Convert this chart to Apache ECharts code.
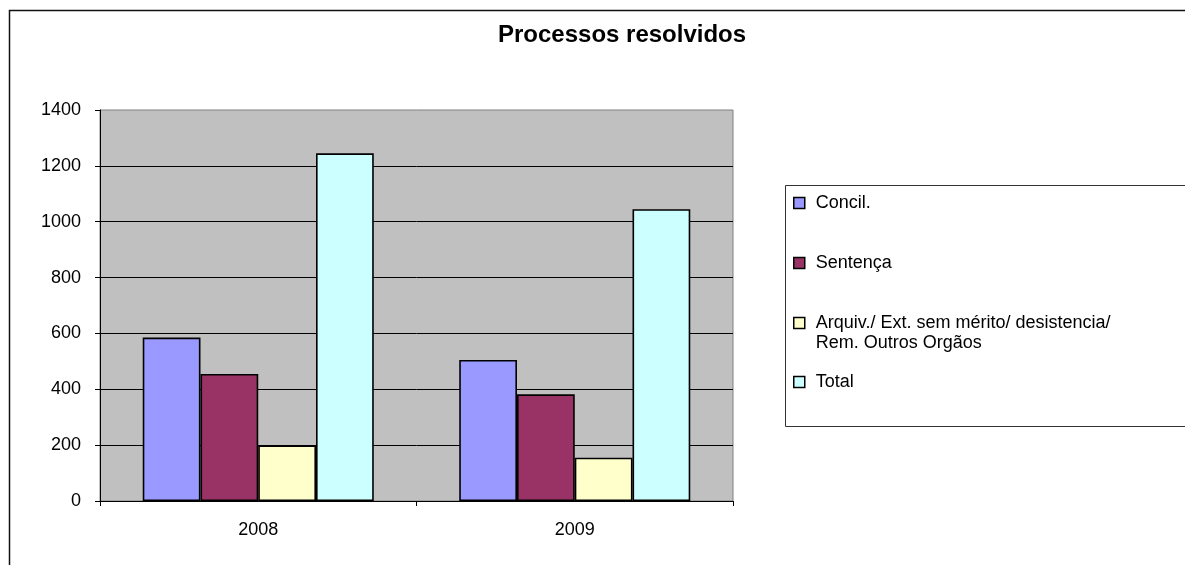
<!DOCTYPE html>
<html>
<head>
<meta charset="utf-8">
<title>Processos resolvidos</title>
<script src="https://cdn.jsdelivr.net/npm/echarts@6/dist/echarts.min.js"></script>
<style>
  html, body { margin: 0; padding: 0; background: #fff; }
  #chart { width: 1185px; height: 565px; }
</style>
</head>
<body>
<div id="chart"></div>
<script>
// Processos resolvidos - grouped bars per year (Excel-style look)

const years = ['2008', '2009'];
const seriesNames = [
    'Concil.',
    'Sentença',
    'Arquiv./ Ext. sem mérito/ desistencia/ Rem. Outros Orgãos',
    'Total'
];
const concil = [585, 505];
const sentenca = [455, 382];
const arquiv = [199, 155];
const total = [1245, 1045];
const yTicks = [0, 200, 400, 600, 800, 1000, 1200, 1400];

const colors = ['#9999FF', '#993366', '#FFFFCC', '#CCFFFF'];
const values = [concil, sentenca, arquiv, total];
const font = '"Liberation Sans", Arial, sans-serif';

const chart = echarts.init(document.getElementById('chart'), null, { renderer: 'canvas' });

const legendBase = {
    orient: 'vertical',
    left: 793,
    padding: 0,
    itemWidth: 11,
    itemHeight: 11,
    icon: 'rect',
    selectedMode: false,
    itemStyle: { borderColor: '#000', borderWidth: 1.5 },
    textStyle: {
        fontFamily: font, fontSize: 18, color: '#000',
        lineHeight: 20, padding: [0, 0, 0, 6]
    },
    // long label wraps; an empty first line keeps the icon beside the first text line
    formatter: name => name.indexOf('desistencia/ ') >= 0
        ? '\n' + name.replace('desistencia/ ', 'desistencia/\n')
        : name
};

chart.setOption({
    animation: false,
    backgroundColor: '#fff',
    title: {
        text: 'Processos resolvidos',
        left: 498,
        top: 23,
        padding: 0,
        textStyle: { fontFamily: font, fontSize: 24, fontWeight: 'bold', color: '#000' }
    },
    graphic: [
        {
            type: 'rect', silent: true, z: -10,
            shape: { x: 9.5, y: 10.5, width: 1300, height: 700 },
            style: { fill: 'none', stroke: '#111', lineWidth: 1.5 }
        },
        {
            type: 'rect', silent: true, z: -5,
            shape: { x: 785.5, y: 185.5, width: 500, height: 241 },
            style: { fill: '#fff', stroke: '#333', lineWidth: 1 }
        }
    ],
    legend: [
        Object.assign({}, legendBase, { data: seriesNames.slice(0, 2), top: 193, itemGap: 40 }),
        Object.assign({}, legendBase, { data: seriesNames.slice(2), top: 293, itemGap: 19 })
    ],
    grid: {
        left: 100, right: 452, top: 110, bottom: 64,
        show: true, backgroundColor: '#C0C0C0',
        borderColor: '#808080', borderWidth: 1
    },
    xAxis: {
        type: 'category',
        data: years,
        axisLine: { lineStyle: { color: '#000', width: 1 } },
        axisTick: { show: true, length: 5, lineStyle: { color: '#000' } },
        axisLabel: { fontFamily: font, fontSize: 18, color: '#000', margin: 20 }
    },
    yAxis: {
        type: 'value',
        min: yTicks[0],
        max: yTicks[yTicks.length - 1],
        interval: yTicks[1] - yTicks[0],
        axisLine: { show: true, lineStyle: { color: '#000', width: 1 } },
        axisTick: { show: true, length: 5, lineStyle: { color: '#000' } },
        axisLabel: {
            fontFamily: font, fontSize: 18, color: '#000', margin: 19,
            formatter: v => String(v)
        },
        splitLine: { show: true, showMaxLine: false, lineStyle: { color: '#000', width: 1 } }
    },
    series: seriesNames.map((name, i) => ({
        name: name,
        type: 'bar',
        data: values[i],
        barGap: '0%',
        barCategoryGap: '27%',
        itemStyle: { color: colors[i], borderColor: '#000', borderWidth: 1.6 }
    }))
});

window.addEventListener('resize', () => chart.resize());
</script>
</body>
</html>
